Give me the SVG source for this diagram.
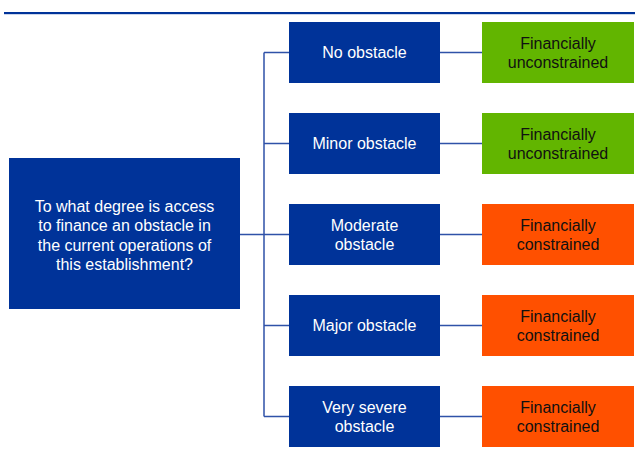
<svg xmlns="http://www.w3.org/2000/svg" width="635" height="453" viewBox="0 0 635 453">
<style>
.q{fill:#003399}
.g{fill:#62B500}
.o{fill:#FF5000}
text{font-family:"Liberation Sans",Arial,sans-serif;font-size:16px;text-anchor:middle;dominant-baseline:central}
.w{fill:#ffffff}
.k{fill:#111111}
.c{stroke:#2F52A8;stroke-width:1.5;fill:none}
</style>
<rect x="4" y="12" width="631" height="2.2" fill="#003399"/>
<g id="connectors">
<path class="c" d="M240,234.5 H289 M264,52.5 V416.5 M264,52.5 H289 M264,143.5 H289 M264,325.5 H289 M264,416.5 H289"/>
<path class="c" d="M440,52.5 H482 M440,143.5 H482 M440,234.5 H482 M440,325.5 H482 M440,416.5 H482"/>
</g>
<g id="question">
<rect class="q" x="9" y="158" width="231" height="151"/>
<text class="w" x="124.5" y="206">To what degree is access</text>
<text class="w" x="124.5" y="225.5">to finance an obstacle in</text>
<text class="w" x="124.5" y="245">the current operations of</text>
<text class="w" x="124.5" y="264.5">this establishment?</text>
</g>
<g id="no">
<rect class="q" x="289" y="22" width="151" height="61"/>
<text class="w" x="364.5" y="52.5">No obstacle</text>
</g>
<g id="minor">
<rect class="q" x="289" y="113" width="151" height="61"/>
<text class="w" x="364.5" y="143.5">Minor obstacle</text>
</g>
<g id="moderate">
<rect class="q" x="289" y="204" width="151" height="61"/>
<text class="w" x="364.5" y="225">Moderate</text>
<text class="w" x="364.5" y="244.5">obstacle</text>
</g>
<g id="major">
<rect class="q" x="289" y="295" width="151" height="61"/>
<text class="w" x="364.5" y="325.5">Major obstacle</text>
</g>
<g id="severe">
<rect class="q" x="289" y="386" width="151" height="61"/>
<text class="w" x="364.5" y="407">Very severe</text>
<text class="w" x="364.5" y="426.5">obstacle</text>
</g>
<g id="r1">
<rect class="g" x="482" y="22" width="152" height="61"/>
<text class="k" x="558" y="43">Financially</text>
<text class="k" x="558" y="62.5">unconstrained</text>
</g>
<g id="r2">
<rect class="g" x="482" y="113" width="152" height="61"/>
<text class="k" x="558" y="134">Financially</text>
<text class="k" x="558" y="153.5">unconstrained</text>
</g>
<g id="r3">
<rect class="o" x="482" y="204" width="152" height="61"/>
<text class="k" x="558" y="225">Financially</text>
<text class="k" x="558" y="244.5">constrained</text>
</g>
<g id="r4">
<rect class="o" x="482" y="295" width="152" height="61"/>
<text class="k" x="558" y="316">Financially</text>
<text class="k" x="558" y="335.5">constrained</text>
</g>
<g id="r5">
<rect class="o" x="482" y="386" width="152" height="61"/>
<text class="k" x="558" y="407">Financially</text>
<text class="k" x="558" y="426.5">constrained</text>
</g>
</svg>
